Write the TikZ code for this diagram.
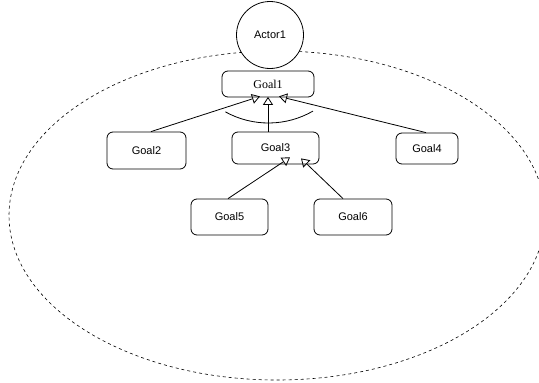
\documentclass[tikz,border=0pt]{standalone}
\usepackage{fontspec}
\setmainfont{Liberation Sans}
\newfontfamily\goalserif{Liberation Serif}
\usetikzlibrary{arrows.meta}
\begin{document}
\begin{tikzpicture}[x=1pt,y=-1pt,
  goal/.style={draw, rounded corners=6pt, line width=0.8pt, inner sep=0pt, font=\fontsize{11}{13}\selectfont},
  actor/.style={draw, circle, fill=white, line width=0.8pt, inner sep=0pt, minimum size=67pt, font=\fontsize{11}{13}\selectfont},
  isa/.style={line width=0.8pt, -{Triangle[open, length=8pt, width=10pt, line width=0.8pt]}},
  boundary/.style={dash pattern=on 3pt off 3pt, line width=0.6pt}
]
\clip (0,0) rectangle (539,383);

% system boundary of the actor
\draw[boundary] (277,215.5) ellipse [x radius=268, y radius=164.5];

% actor
\node[actor] (actor) at (270,35) {Actor1};

% goals
\node[goal, minimum width=92pt, minimum height=26pt, font=\goalserif\fontsize{12}{14}\selectfont] (g1) at (268,84) {Goal1};
\node[goal, minimum width=79pt, minimum height=37pt] (g2) at (146.5,150.5) {Goal2};
\node[goal, minimum width=87pt, minimum height=32pt] (g3) at (275.5,148) {Goal3};
\node[goal, minimum width=62pt, minimum height=31pt] (g4) at (427,148.5) {Goal4};
\node[goal, minimum width=77pt, minimum height=36pt] (g5) at (229.5,217) {Goal5};
\node[goal, minimum width=78pt, minimum height=36pt] (g6) at (353,217) {Goal6};

% arrow tips below Goal1 and Goal3
\coordinate (t12) at ([xshift=-8pt, yshift=1pt]g1.south);
\coordinate (t13) at ([yshift=0.5pt]g1.south);
\coordinate (t14) at ([xshift=11pt, yshift=1pt]g1.south);
\coordinate (t35) at ([xshift=14.5pt, yshift=7pt]g3.south);
\coordinate (t36) at ([xshift=25.5pt, yshift=6pt]g3.south);

% refinement links
\draw[isa] ([xshift=4.5pt]g2.north) -- (t12);
\draw[isa] ([xshift=-7.5pt]g3.north) -- (t13);
\draw[isa] ([xshift=-1pt]g4.north) -- (t14);
\draw[isa] ([xshift=-1.5pt]g5.north) -- (t35);
\draw[isa] ([xshift=-10pt]g6.north) -- (t36);

% AND-decomposition arc (y axis points down, so angles run downward)
\draw[line width=0.8pt] (268.5,34) ++(119:89) arc[start angle=119, end angle=60, radius=89];
\end{tikzpicture}
\end{document}
